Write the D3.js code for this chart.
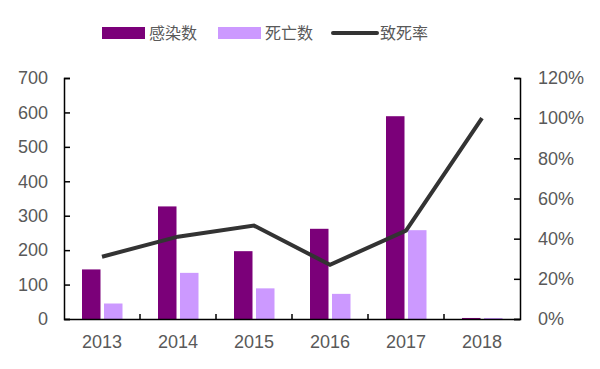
<!DOCTYPE html>
<html>
<head>
<meta charset="utf-8">
<script src="https://cdn.jsdelivr.net/npm/d3@7"></script>
<style>
  body { margin: 0; background: #fff; }
  text { font-family: "Liberation Sans", Arial, sans-serif; fill: #595959; }
  .cjk { font-family: "Noto Sans CJK SC", sans-serif; }
</style>
</head>
<body>
<div id="chart"></div>
<script>
const years = ["2013", "2014", "2015", "2016", "2017", "2018"];
const infected = [144, 327, 197, 262, 589, 3];
const deaths = [45, 134, 89, 73, 258, 3];
const fatality = [0.31, 0.41, 0.465, 0.27, 0.44, 1.0];
const leftTicks = [0, 100, 200, 300, 400, 500, 600, 700];
const rightTicks = [0, 0.2, 0.4, 0.6, 0.8, 1.0, 1.2];
const seriesNames = ["感染数", "死亡数", "致死率"];

const W = 600, H = 369;
const margin = { top: 78, right: 80, bottom: 50, left: 64 };
const width = W - margin.left - margin.right,
  height = H - margin.top - margin.bottom;

const svg = d3.select("#chart").append("svg")
  .attr("width", W).attr("height", H);
const g = svg.append("g")
  .attr("transform", `translate(${margin.left},${margin.top})`);

const x = d3.scaleBand().domain(years).range([0, width]);
const yL = d3.scaleLinear().domain([0, 700]).range([height, 0]);
const yR = d3.scaleLinear().domain([0, 1.2]).range([height, 0]);

const c1 = "#7b0079", c2 = "#cc99ff", c3 = "#333333";

// bars
const bw = 18.5;
g.selectAll(".inf").data(years).enter().append("rect")
  .attr("x", d => x(d) + x.bandwidth() / 2 - 20)
  .attr("y", (d, i) => yL(infected[i]))
  .attr("width", bw)
  .attr("height", (d, i) => height - yL(infected[i]))
  .attr("fill", c1);
g.selectAll(".dth").data(years).enter().append("rect")
  .attr("x", d => x(d) + x.bandwidth() / 2 + 2)
  .attr("y", (d, i) => yL(deaths[i]))
  .attr("width", bw)
  .attr("height", (d, i) => height - yL(deaths[i]))
  .attr("fill", c2);

// line
const line = d3.line()
  .x((d, i) => x(years[i]) + x.bandwidth() / 2)
  .y(d => yR(d));
g.append("path").datum(fatality)
  .attr("d", line)
  .attr("fill", "none")
  .attr("stroke", c3)
  .attr("stroke-width", 4)
  .attr("stroke-linejoin", "miter");

// axes
const left = g.append("g")
  .call(d3.axisLeft(yL).tickValues(leftTicks).tickSizeInner(-6).tickSizeOuter(-6).tickPadding(16));
const right = g.append("g").attr("transform", `translate(${width},0)`)
  .call(d3.axisRight(yR).tickValues(rightTicks).tickFormat(d3.format(".0%"))
    .tickSizeInner(-6).tickSizeOuter(-6).tickPadding(18));
const bottom = g.append("g").attr("transform", `translate(0,${height})`)
  .call(d3.axisBottom(x).tickSize(0).tickPadding(16));

// category boundary ticks
g.selectAll(".btick").data(years.slice(1)).enter().append("line")
  .attr("x1", d => x(d)).attr("x2", d => x(d))
  .attr("y1", height).attr("y2", height - 5)
  .attr("stroke", "#000").attr("stroke-width", 1.5);

[left, right, bottom].forEach(a => {
  a.selectAll("path, line").attr("stroke", "#000").attr("stroke-width", 1.5);
  a.selectAll("text").attr("font-size", 18).attr("fill", "#595959")
    .style("font-family", "'Liberation Sans', Arial, sans-serif");
});
right.selectAll("text").attr("text-anchor", "start");

// legend
const legend = svg.append("g").attr("transform", "translate(0,33)");
const items = [
  { x: 102, name: seriesNames[0], type: "rect", color: c1 },
  { x: 218, name: seriesNames[1], type: "rect", color: c2 },
  { x: 333, name: seriesNames[2], type: "line", color: c3 }
];
items.forEach(it => {
  if (it.type === "rect") {
    legend.append("rect").attr("x", it.x).attr("y", -6)
      .attr("width", 43).attr("height", 12).attr("fill", it.color);
  } else {
    legend.append("line").attr("x1", it.x).attr("x2", it.x + 44)
      .attr("y1", 0).attr("y2", 0)
      .attr("stroke", it.color).attr("stroke-width", 4).attr("stroke-linecap", "round");
  }
  legend.append("text").attr("class", "cjk")
    .attr("x", it.x + 47).attr("y", 0).attr("dy", "0.36em")
    .attr("font-size", 16).text(it.name);
});
</script>
</body>
</html>
